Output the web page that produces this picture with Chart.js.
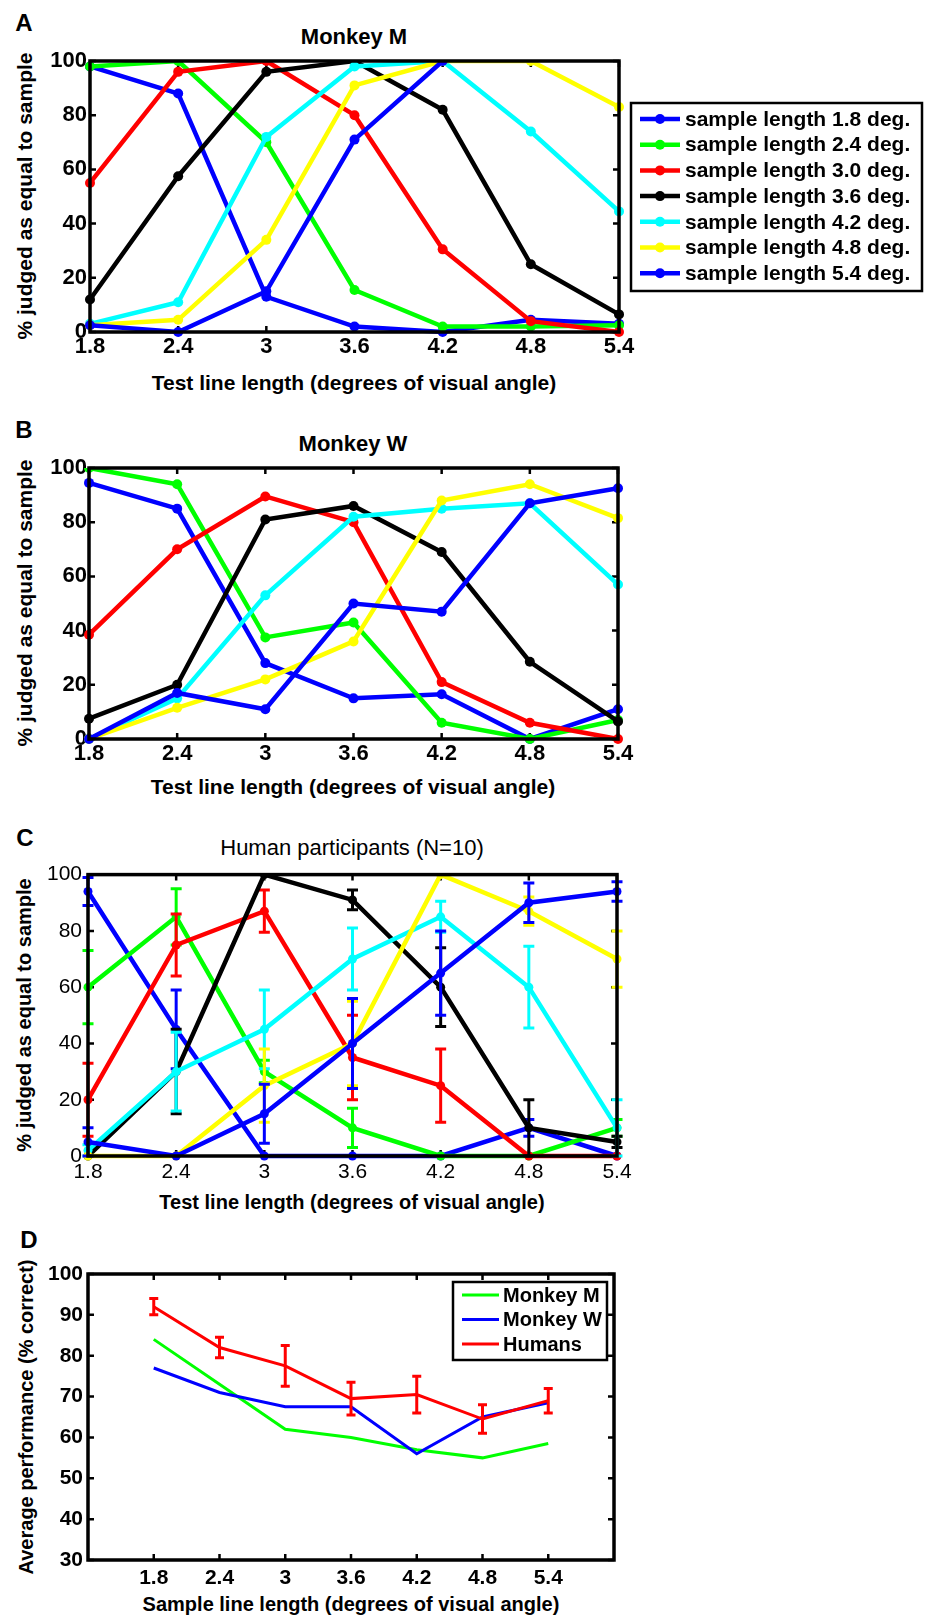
<!DOCTYPE html>
<html lang="en">
<head>
<meta charset="UTF-8" />
<title>Line length judgements</title>
<script src="https://cdn.jsdelivr.net/npm/chart.js"></script>
<style>
  body { margin: 0; background: #fff; font-family: "Liberation Sans", Arial, sans-serif; }
  .page { position: relative; width: 930px; height: 1615px; }
  canvas { position: absolute; left: 0; }
  .lbl { position: absolute; transform: translate(-50%, -50%); white-space: nowrap;
         font-weight: bold; color: #000; line-height: 1; }
  .rot { transform: translate(-50%, -50%) rotate(-90deg); }
</style>
</head>
<body>
<div class="page">
  <div class="lbl" style="left:24px;top:23px;font-size:24px">A</div>
  <div class="lbl" style="left:354px;top:37px;font-size:22px">Monkey M</div>
  <div class="lbl" style="left:354px;top:382px;font-size:21px">Test line length (degrees of visual angle)</div>
  <div class="lbl rot" style="left:24px;top:196px;font-size:21px">% judged as equal to sample</div>
  <canvas id="chartA" width="930" height="322" style="top:44px"></canvas>

  <div class="lbl" style="left:24px;top:430px;font-size:24px">B</div>
  <div class="lbl" style="left:353px;top:444px;font-size:22px">Monkey W</div>
  <div class="lbl" style="left:353px;top:786px;font-size:21px">Test line length (degrees of visual angle)</div>
  <div class="lbl rot" style="left:24px;top:603px;font-size:21px">% judged as equal to sample</div>
  <canvas id="chartB" width="640" height="322" style="top:452px"></canvas>

  <div class="lbl" style="left:25px;top:838px;font-size:24px">C</div>
  <div class="lbl" style="left:352px;top:848px;font-size:22px;font-weight:normal">Human participants (N=10)</div>
  <div class="lbl" style="left:352px;top:1202px;font-size:20px">Test line length (degrees of visual angle)</div>
  <div class="lbl rot" style="left:24px;top:1015px;font-size:20px">% judged as equal to sample</div>
  <canvas id="chartC" width="640" height="334" style="top:856px"></canvas>

  <div class="lbl" style="left:29px;top:1240px;font-size:24px">D</div>
  <div class="lbl" style="left:351px;top:1604px;font-size:20px">Sample line length (degrees of visual angle)</div>
  <div class="lbl rot" style="left:26px;top:1417px;font-size:20px">Average performance (% correct)</div>
  <canvas id="chartD" width="640" height="336" style="top:1256px"></canvas>
</div>

<script>
  // ---- data ----
  const testLengths = [1.8, 2.4, 3, 3.6, 4.2, 4.8, 5.4];
  const testLabels = ["1.8", "2.4", "3", "3.6", "4.2", "4.8", "5.4"];
  const pctTicks = [0, 20, 40, 60, 80, 100];
  const perfTicks = [30, 40, 50, 60, 70, 80, 90, 100];
  const sampleNames = [
    "sample length 1.8 deg.", "sample length 2.4 deg.", "sample length 3.0 deg.",
    "sample length 3.6 deg.", "sample length 4.2 deg.", "sample length 4.8 deg.",
    "sample length 5.4 deg."
  ];
  const sampleColors = ["#0000ff", "#00ff00", "#ff0000", "#000000", "#00ffff", "#ffff00", "#0000ff"];

  // Monkey M
  const mM18 = [98, 88, 13, 2, 0, 4.5, 3];
  const mM24 = [98, 100, 70, 15.5, 2, 2, 2.5];
  const mM30 = [55, 96, 100, 80, 30.5, 4, 0];
  const mM36 = [12, 57.5, 96, 100, 82, 25, 6.5];
  const mM42 = [3, 11, 72, 98, 100, 74, 44.5];
  const mM48 = [2.5, 4.5, 34, 91, 100, 100, 83];
  const mM54 = [2.5, 0, 15, 71, 100, null, null];

  // Monkey W
  const mW18 = [94.5, 85, 28, 15, 16.5, 0, 11];
  const mW24 = [100, 94, 37.5, 43, 6, 0, 7];
  const mW30 = [38.5, 70, 89.5, 80, 21, 6, 0];
  const mW36 = [7.5, 20, 81, 86, 69, 28.5, 6.5];
  const mW42 = [0, 15, 53, 82, 85, 87, 57];
  const mW48 = [0, 11.5, 22, 36, 88, 94, 81.5];
  const mW54 = [0, 17, 11, 50, 47, 87, 92.5];

  // Humans (mean and error)
  const h18 = [94, 45, 0, 0, 0, 10, 0];
  const h24 = [60, 85, 30, 10, 0, 0, 10];
  const h30 = [20, 75, 87, 35, 25, 0, 0];
  const h36 = [0, 30, 100, 91, 60, 10, 5];
  const h42 = [2, 30, 45, 70, 85, 60, 10];
  const h48 = [0, 0, 25, 40, 100, 87, 70];
  const h54 = [5, 0, 15, 40, 65, 90, 94];
  const h18Err = [5, 14, 0, 0, 0, 3, 0];
  const h24Err = [13, 10, 4, 7, 0, 0, 3];
  const h30Err = [13, 11, 7.5, 15, 13, 0, 0];
  const h36Err = [0, 15, 0, 3.5, 14, 10, 2];
  const h42Err = [2, 14, 14, 11, 5.5, 14.5, 10];
  const h48Err = [0, 0, 13, 15, 0, 5, 10];
  const h54Err = [5, 0, 10.5, 16, 15, 7, 3.5];

  // Average performance
  const perfNames = ["Monkey M", "Monkey W", "Humans"];
  const perfColors = ["#00ff00", "#0000ff", "#ff0000"];
  const perfMonkeyM = [84, 73, 62, 60, 57, 55, 58.5];
  const perfMonkeyW = [77, 71, 67.5, 67.5, 56, 65, 68.5];
  const perfHumans = [92, 82, 77.5, 69.5, 70.5, 64.5, 69];
  const perfHumansErr = [2, 2.5, 5, 4, 4.5, 3.5, 3];

  // ---- plugins ----
  const framePlugin = {
    id: "frame",
    defaults: { tick: 6, width: 3.5 },
    beforeDatasetsDraw(chart, args, o) {
      const { ctx, chartArea: a, scales } = chart;
      ctx.save();
      ctx.strokeStyle = "#000";
      ctx.lineWidth = 2.5;
      ctx.beginPath();
      scales.x.ticks.forEach(t => {
        const px = scales.x.getPixelForValue(t.value);
        ctx.moveTo(px, a.bottom); ctx.lineTo(px, a.bottom - o.tick);
        ctx.moveTo(px, a.top); ctx.lineTo(px, a.top + o.tick);
      });
      scales.y.ticks.forEach(t => {
        const py = scales.y.getPixelForValue(t.value);
        ctx.moveTo(a.left, py); ctx.lineTo(a.left + o.tick, py);
        ctx.moveTo(a.right, py); ctx.lineTo(a.right - o.tick, py);
      });
      ctx.stroke();
      ctx.restore();
    },
    afterDatasetsDraw(chart, args, o) {
      const { ctx, chartArea: a } = chart;
      ctx.save();
      ctx.strokeStyle = "#000";
      ctx.lineWidth = o.width;
      ctx.strokeRect(a.left, a.top, a.right - a.left, a.bottom - a.top);
      ctx.restore();
    }
  };

  const errorBars = {
    id: "errorBars",
    defaults: { width: 3, cap: 5.5 },
    afterDatasetDraw(chart, args, o) {
      const ds = chart.data.datasets[args.index];
      if (!ds.errors) return;
      const { ctx, chartArea: a, scales: { x, y } } = chart;
      ctx.save();
      ctx.beginPath();
      ctx.rect(a.left - 8, a.top, a.right - a.left + 16, a.bottom - a.top + 8);
      ctx.clip();
      ctx.strokeStyle = ds.borderColor;
      ctx.lineWidth = o.width;
      ctx.beginPath();
      ds.data.forEach((p, i) => {
        const e = ds.errors[i];
        if (p.y == null || !e) return;
        const px = x.getPixelForValue(p.x);
        const lo = y.getPixelForValue(p.y - e);
        const hi = y.getPixelForValue(p.y + e);
        ctx.moveTo(px, lo); ctx.lineTo(px, hi);
        ctx.moveTo(px - o.cap, lo); ctx.lineTo(px + o.cap, lo);
        ctx.moveTo(px - o.cap, hi); ctx.lineTo(px + o.cap, hi);
      });
      ctx.stroke();
      ctx.restore();
    }
  };

  const boxLegend = {
    id: "boxLegend",
    afterDraw(chart, args, o) {
      if (!o.show) return;
      const ctx = chart.ctx;
      ctx.save();
      ctx.fillStyle = "#fff";
      ctx.fillRect(o.left, o.top, o.width, o.height);
      ctx.strokeStyle = "#000";
      ctx.lineWidth = o.border;
      ctx.strokeRect(o.left, o.top, o.width, o.height);
      ctx.font = o.textFont;
      ctx.textBaseline = "middle";
      chart.data.datasets.forEach((ds, i) => {
        const yy = o.top + o.first + i * o.gap;
        ctx.strokeStyle = ds.borderColor;
        ctx.lineWidth = ds.borderWidth;
        ctx.beginPath();
        ctx.moveTo(o.left + o.lineFrom, yy);
        ctx.lineTo(o.left + o.lineTo, yy);
        ctx.stroke();
        if (o.marker) {
          ctx.fillStyle = ds.borderColor;
          ctx.beginPath();
          ctx.arc(o.left + (o.lineFrom + o.lineTo) / 2, yy, ds.pointRadius, 0, Math.PI * 2);
          ctx.fill();
        }
        ctx.fillStyle = "#000";
        ctx.fillText(ds.label, o.left + o.textX, yy + 1);
      });
      ctx.restore();
    }
  };

  // ---- builders ----
  function sampleSets(series, errs, radius) {
    return series.map((vals, i) => ({
      label: sampleNames[i],
      data: testLengths.map((x, j) => ({ x: x, y: vals[j] })),
      errors: errs ? errs[i] : null,
      borderColor: sampleColors[i],
      backgroundColor: sampleColors[i],
      pointBackgroundColor: sampleColors[i],
      borderWidth: 4.5,
      pointRadius: radius,
      pointBorderWidth: 0,
      tension: 0,
      order: series.length - i,
      clip: { left: 8, right: 8, top: 0, bottom: 8 }
    }));
  }

  function axes(p) {
    return {
      x: {
        type: "linear", min: p.xMin, max: p.xMax,
        grid: { display: false, drawTicks: false }, border: { display: false },
        afterBuildTicks: s => { s.ticks = testLengths.map(v => ({ value: v })); },
        afterFit: s => { s.height = p.xHeight; },
        ticks: { autoSkip: false, maxRotation: 0, padding: p.xPad, color: "#000",
                 font: p.tickFont, callback: (v, i) => testLabels[i] }
      },
      y: {
        type: "linear", min: p.yMin, max: p.yMax,
        grid: { display: false, drawTicks: false }, border: { display: false },
        afterBuildTicks: s => { s.ticks = p.yTicks.map(v => ({ value: v })); },
        afterFit: s => { s.width = p.yWidth; },
        ticks: { autoSkip: false, padding: p.yPad, color: "#000",
                 font: p.tickFont, callback: v => String(v) }
      }
    };
  }

  const family = '"Liberation Sans", Arial, sans-serif';
  const boldTicks = { family: family, size: 22, weight: "bold" };

  // A: Monkey M
  new Chart(document.getElementById("chartA"), {
    type: "line",
    data: { datasets: sampleSets([mM18, mM24, mM30, mM36, mM42, mM48, mM54], null, 5) },
    options: {
      responsive: false, animation: false,
      layout: { padding: { left: 0, top: 17, right: 311, bottom: 0 } },
      plugins: {
        legend: { display: false }, tooltip: { enabled: false },
        boxLegend: {
          show: true, left: 631, top: 59, width: 291, height: 188, border: 2.5,
          first: 16, gap: 25.7, lineFrom: 9, lineTo: 49, textX: 54, marker: true,
          textFont: "bold 21px " + family
        }
      },
      scales: axes({ xMin: 1.8, xMax: 5.4, yMin: 0, yMax: 100, yTicks: pctTicks,
                     xHeight: 34, yWidth: 90, xPad: 2, yPad: 3, tickFont: boldTicks })
    },
    plugins: [framePlugin, errorBars, boxLegend]
  });

  // B: Monkey W
  new Chart(document.getElementById("chartB"), {
    type: "line",
    data: { datasets: sampleSets([mW18, mW24, mW30, mW36, mW42, mW48, mW54], null, 5) },
    options: {
      responsive: false, animation: false,
      layout: { padding: { left: 0, top: 16, right: 22, bottom: 0 } },
      plugins: { legend: { display: false }, tooltip: { enabled: false } },
      scales: axes({ xMin: 1.8, xMax: 5.4, yMin: 0, yMax: 100, yTicks: pctTicks,
                     xHeight: 35, yWidth: 89, xPad: 2, yPad: 2, tickFont: boldTicks })
    },
    plugins: [framePlugin, errorBars, boxLegend]
  });

  // C: Humans
  new Chart(document.getElementById("chartC"), {
    type: "line",
    data: {
      datasets: sampleSets([h18, h24, h30, h36, h42, h48, h54],
                           [h18Err, h24Err, h30Err, h36Err, h42Err, h48Err, h54Err], 4.5)
    },
    options: {
      responsive: false, animation: false,
      layout: { padding: { left: 0, top: 17, right: 23, bottom: 0 } },
      plugins: { legend: { display: false }, tooltip: { enabled: false } },
      scales: axes({ xMin: 1.8, xMax: 5.4, yMin: 0, yMax: 100, yTicks: pctTicks,
                     xHeight: 34, yWidth: 88, xPad: 4, yPad: 6,
                     tickFont: { family: family, size: 21, weight: "normal" } })
    },
    plugins: [framePlugin, errorBars, boxLegend]
  });

  // D: average performance
  const perfSeries = [perfMonkeyM, perfMonkeyW, perfHumans];
  new Chart(document.getElementById("chartD"), {
    type: "line",
    data: {
      datasets: perfSeries.map((vals, i) => ({
        label: perfNames[i],
        data: testLengths.map((x, j) => ({ x: x, y: vals[j] })),
        errors: i === 2 ? perfHumansErr : null,
        borderColor: perfColors[i],
        backgroundColor: perfColors[i],
        borderWidth: 3,
        pointRadius: 0,
        tension: 0,
        order: perfSeries.length - i
      }))
    },
    options: {
      responsive: false, animation: false,
      layout: { padding: { left: 0, top: 18, right: 26, bottom: 0 } },
      plugins: {
        legend: { display: false }, tooltip: { enabled: false },
        errorBars: { width: 3, cap: 4.5 },
        boxLegend: {
          show: true, left: 453, top: 26, width: 154, height: 78, border: 2.5,
          first: 13, gap: 24.5, lineFrom: 9, lineTo: 46, textX: 50, marker: false,
          textFont: "bold 20px " + family
        }
      },
      scales: axes({ xMin: 1.2, xMax: 6.0, yMin: 30, yMax: 100, yTicks: perfTicks,
                     xHeight: 32, yWidth: 88, xPad: 6, yPad: 5,
                     tickFont: { family: family, size: 21, weight: "bold" } })
    },
    plugins: [framePlugin, errorBars, boxLegend]
  });
</script>
</body>
</html>
